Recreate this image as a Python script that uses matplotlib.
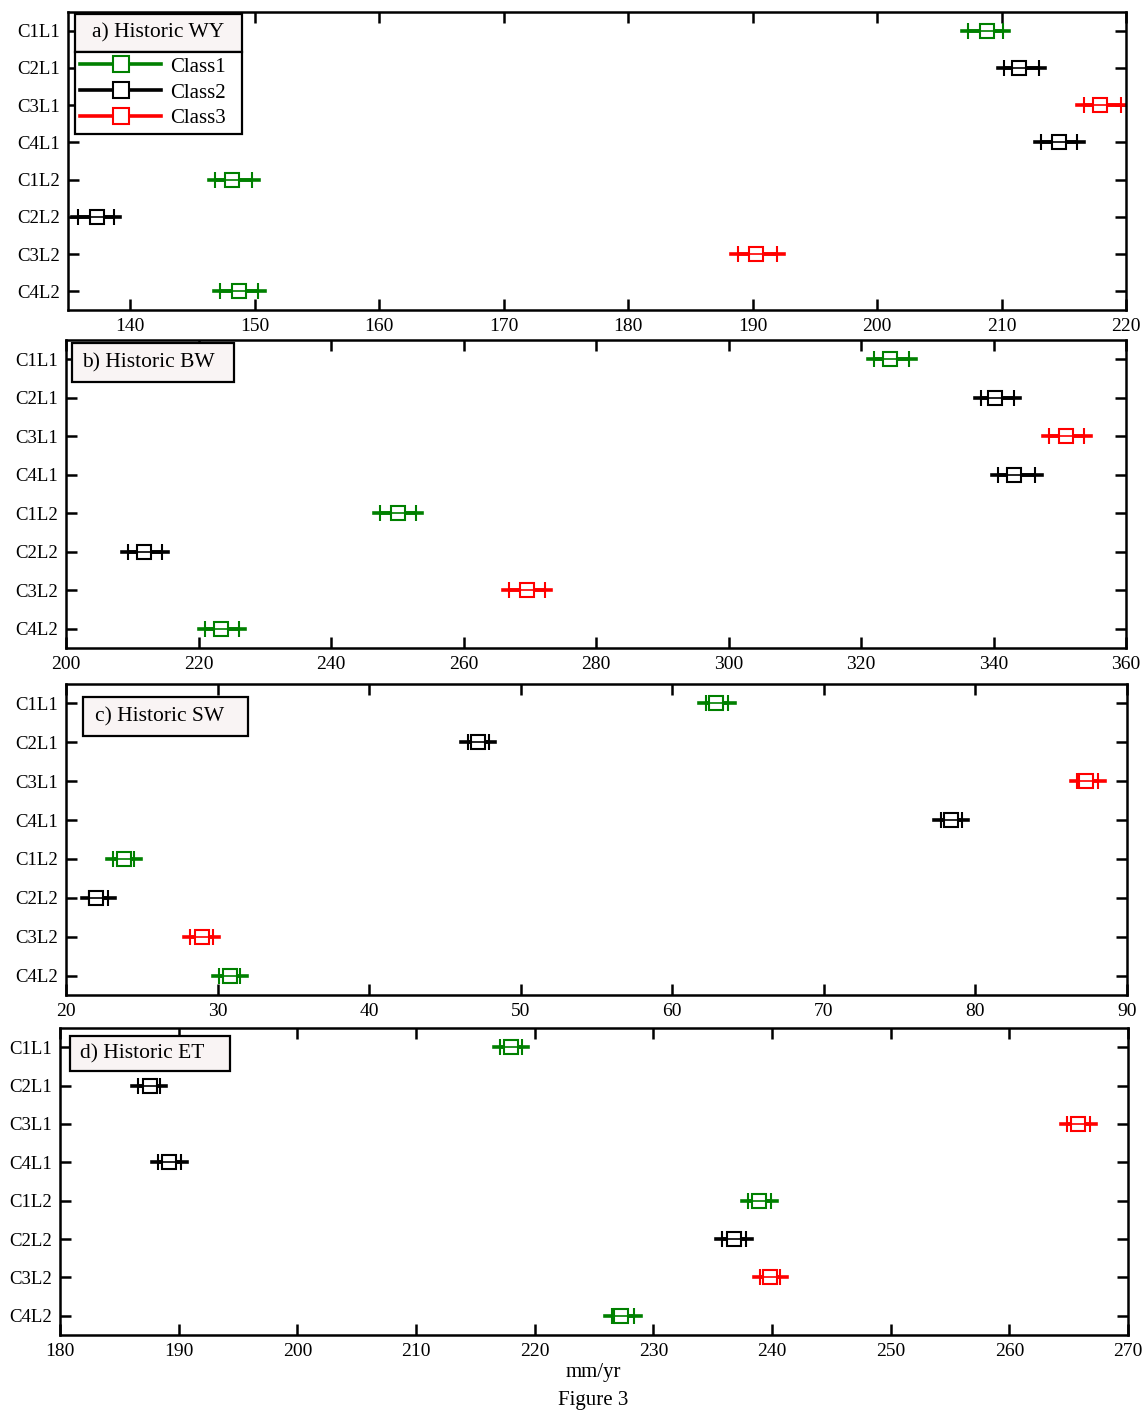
import numpy as np
import matplotlib.pyplot as plt
from matplotlib.lines import Line2D
from matplotlib.patches import Rectangle

plt.rcParams['font.family'] = ['Liberation Serif', 'DejaVu Serif']

labels = ['C1L1', 'C2L1', 'C3L1', 'C4L1', 'C1L2', 'C2L2', 'C3L2', 'C4L2']
classes = [1, 2, 3, 2, 1, 2, 3, 1]

# a) Historic WY
wy_mid = [208.8, 211.4, 217.9, 214.6, 148.2, 137.3, 190.3, 148.7]
wy_lo = [207.3, 210.2, 216.6, 213.2, 146.8, 135.8, 188.8, 147.2]
wy_hi = [210.1, 213.0, 219.6, 216.1, 149.8, 138.7, 192.0, 150.3]

# b) Historic BW
bw_mid = [324.4, 340.2, 350.9, 343.1, 250.1, 211.8, 269.6, 223.4]
bw_lo = [322.0, 338.1, 348.4, 340.7, 247.4, 209.4, 266.9, 221.0]
bw_hi = [327.3, 343.1, 353.7, 346.3, 252.8, 214.5, 272.3, 226.1]

# c) Historic SW
sw_mid = [62.9, 47.2, 87.3, 78.4, 23.8, 22.0, 29.0, 30.8]
sw_lo = [62.2, 46.5, 86.7, 77.7, 23.1, 21.5, 28.2, 30.1]
sw_hi = [63.7, 47.9, 88.1, 79.1, 24.5, 22.8, 29.7, 31.5]

# d) Historic ET
et_mid = [218.0, 187.6, 265.8, 189.2, 238.9, 236.8, 239.8, 227.3]
et_lo = [217.1, 186.6, 264.9, 188.3, 238.0, 235.8, 239.0, 226.5]
et_hi = [218.9, 188.4, 266.8, 190.2, 239.9, 237.8, 240.7, 228.4]

colors = {1: '#008000', 2: 'black', 3: '#ff0000'}

# title, data, xlim, xticks, axes box (px), title box (axes frac: x, ybottom, w, h), text x offset
panels = [
    ('a) Historic WY', wy_mid, wy_lo, wy_hi, (135, 220), np.arange(140, 221, 10),
     [68, 1126, 12, 310], (0.0066, 0.866, 0.158, 0.127), 0.016),
    ('b) Historic BW', bw_mid, bw_lo, bw_hi, (200, 360), np.arange(200, 361, 20),
     [66, 1126, 340, 648], (0.0057, 0.864, 0.153, 0.126), 0.0095),
    ('c) Historic SW', sw_mid, sw_lo, sw_hi, (20, 90), np.arange(20, 91, 10),
     [66, 1127, 684, 995], (0.016, 0.833, 0.1555, 0.125), 0.011),
    ('d) Historic ET', et_mid, et_lo, et_hi, (180, 270), np.arange(180, 271, 10),
     [60, 1128, 1028, 1335], (0.0094, 0.860, 0.150, 0.114), 0.0095),
]

W, H = 1147, 1412
fig = plt.figure(figsize=(W / 100, H / 100), dpi=100)

for title, mid, lo, hi, xlim, xt, box, tb, tx in panels:
    l, r, t, b = box
    ax = fig.add_axes([l / W, 1 - b / H, (r - l) / W, (b - t) / H])
    ext = 0.006 * (xlim[1] - xlim[0])
    for i in range(len(labels)):
        c = colors[classes[i]]
        y = i + 1
        # whisker line slightly longer than the caps
        ax.plot([lo[i] - ext, hi[i] + ext], [y, y], color=c, lw=2.6, zorder=2)
        ax.errorbar(mid[i], y, xerr=[[mid[i] - lo[i]], [hi[i] - mid[i]]],
                    fmt='s', color=c, mfc='white', mec=c, ms=10, mew=1.5,
                    ecolor=c, elinewidth=2.6, capsize=6, capthick=2.6, zorder=3)
        ax.plot([lo[i], hi[i]], [y, y], color=c, lw=1.2, zorder=4)
    ax.set_xlim(*xlim)
    ax.set_ylim(8.5, 0.5)
    ax.set_xticks(xt)
    ax.set_yticks(range(1, 9))
    ax.set_yticklabels(labels)
    for s in ax.spines.values():
        s.set_linewidth(1.8)
    ax.tick_params(axis='x', direction='in', length=8, width=1.8, top=True, labelsize=14, pad=6)
    ax.tick_params(axis='y', direction='in', length=8, width=1.8, right=True, labelsize=13.5, pad=6)

    bx, by, bw, bh = tb
    ax.add_patch(Rectangle((bx, by), bw, bh, transform=ax.transAxes, fc='#f9f4f4',
                           ec='black', lw=1.6, zorder=5))
    ax.text(bx + tx, by + bh / 2, title, transform=ax.transAxes, fontsize=15.5,
            va='center', ha='left', zorder=6)
    if title.startswith('a'):
        handles = [Line2D([], [], color=colors[k], lw=2.6, marker='s', mfc='white', mec=colors[k],
                          ms=11, mew=1.5) for k in (1, 2, 3)]
        leg = ax.legend(handles, ['Class1', 'Class2', 'Class3'], loc='upper left',
                        bbox_to_anchor=(bx, by, bw, 0.0), mode='expand', fontsize=15,
                        frameon=True, fancybox=False, edgecolor='black', framealpha=1,
                        handlelength=3.9, handletextpad=0.4, labelspacing=0.3,
                        borderpad=0.25, borderaxespad=0)
        leg.get_frame().set_linewidth(1.6)
        leg.set_zorder(7)

fig.text(593 / W, 1 - 1373 / H, 'mm/yr', ha='center', va='center', fontsize=15)
fig.text(593 / W, 1 - 1400 / H, 'Figure 3', ha='center', va='center', fontsize=15)

fig.savefig('out.png', dpi=100)
